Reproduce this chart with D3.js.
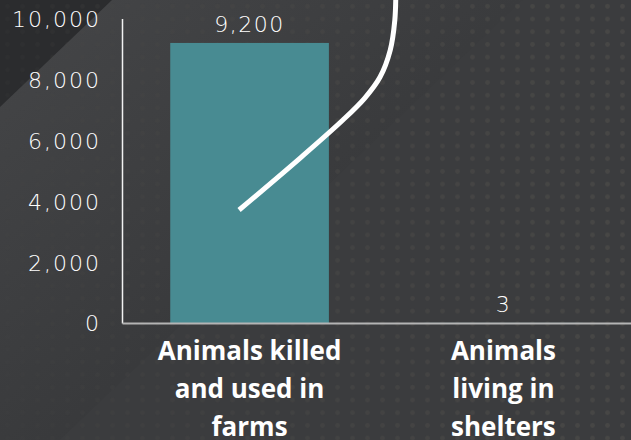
<!DOCTYPE html>
<html lang="en">
<head>
    <meta charset="UTF-8">
    <title>Animals chart</title>
    <script src="https://d3js.org/d3.v7.min.js"></script>
    <style>
        html, body { margin: 0; padding: 0; background: #3a3b3d; overflow: hidden; }
        svg { display: block; }
    </style>
</head>
<body>
<script>
    // data
    const categories = ['farms', 'shelters']
    const labelLines = [
        ['Animals killed', 'and used in', 'farms'],
        ['Animals', 'living in', 'shelters']
    ]
    const values = [9200, 3]
    const yTicks = [0, 2000, 4000, 6000, 8000, 10000]

    // hand-drawn arrow stroke, x as share of plot width, y in chart units
    const curveX = [0.230, 0.350, 0.434, 0.477, 0.507, 0.527, 0.536, 0.538]
    const curveY = [3712, 5420, 6669, 7391, 8081, 8968, 9954, 10940]

    const width = 631
    const height = 440
    const margin = { top: 18.6, right: 0, bottom: 117, left: 122 }

    const numFont = '"DejaVu Sans", sans-serif'
    const labelFont = '"Open Sans", sans-serif'

    const svg = d3.select('body').append('svg')
        .attr('width', width)
        .attr('height', height)

    // ---- background ----
    const defs = svg.append('defs')

    const grad = defs.append('linearGradient')
        .attr('id', 'band')
        .attr('x1', 0).attr('y1', 0).attr('x2', 1).attr('y2', 1)
    grad.append('stop').attr('offset', '0%').attr('stop-color', '#454648')
    grad.append('stop').attr('offset', '100%').attr('stop-color', '#2f3032')

    const dots = defs.append('pattern')
        .attr('id', 'dots')
        .attr('patternUnits', 'userSpaceOnUse')
        .attr('width', 15).attr('height', 12.7)
    dots.append('circle')
        .attr('cx', 7.5).attr('cy', 6.3).attr('r', 2.4)
        .attr('fill', '#4a4947')

    const fade = defs.append('linearGradient')
        .attr('id', 'fade')
        .attr('x1', 0).attr('y1', 0).attr('x2', 1).attr('y2', 0)
    fade.append('stop').attr('offset', '0%').attr('stop-color', '#fff').attr('stop-opacity', 0.1)
    fade.append('stop').attr('offset', '100%').attr('stop-color', '#fff').attr('stop-opacity', 0.85)
    defs.append('mask').attr('id', 'dotmask')
        .append('rect').attr('width', width).attr('height', height).attr('fill', 'url(#fade)')

    const bg = svg.append('g').attr('class', 'background')
    bg.append('rect').attr('width', width).attr('height', height).attr('fill', '#3b3c3e')
    bg.append('polygon')
        .attr('points', '0,0 523,0 60,440 0,440')
        .attr('fill', 'url(#band)')
    bg.append('polygon')
        .attr('points', '0,0 112,0 0,107')
        .attr('fill', '#2b2c2e')
    bg.append('rect')
        .attr('width', width).attr('height', height)
        .attr('fill', 'url(#dots)')
        .attr('mask', 'url(#dotmask)')

    // ---- scales ----
    const xScale = d3.scaleBand()
        .domain(categories)
        .range([margin.left, width - margin.right])
        .paddingInner(0.375)
        .paddingOuter(0.19)

    const yScale = d3.scaleLinear()
        .domain([0, 10000])
        .range([height - margin.bottom, margin.top])

    const annoX = d3.scaleLinear()
        .domain([0, 1])
        .range([margin.left, width - margin.right])

    // ---- bars ----
    svg.append('g')
        .attr('class', 'bars')
        .selectAll('rect')
        .data(values)
        .join('rect')
        .attr('x', (d, i) => xScale(categories[i]))
        .attr('y', d => yScale(d))
        .attr('width', xScale.bandwidth())
        .attr('height', d => yScale(0) - yScale(d))
        .style('fill', '#488b92')

    // value labels
    svg.append('g')
        .attr('class', 'values')
        .selectAll('text')
        .data(values)
        .join('text')
        .attr('x', (d, i) => xScale(categories[i]) + xScale.bandwidth() / 2)
        .attr('y', d => yScale(d) - 11)
        .attr('text-anchor', 'middle')
        .style('font-family', numFont)
        .style('font-weight', 200)
        .style('font-size', '22px')
        .style('letter-spacing', '1.5px')
        .style('fill', '#ffffff')
        .text(d => d3.format(',')(d))

    // ---- axes ----
    const yAxis = d3.axisLeft(yScale)
        .tickValues(yTicks)
        .tickFormat(d3.format(','))
        .tickSize(0)
        .tickPadding(21)

    const gy = svg.append('g')
        .attr('class', 'y-axis')
        .attr('transform', `translate(${margin.left},0)`)
        .call(yAxis)
    gy.select('.domain').attr('stroke', '#f2f2f2').attr('stroke-width', 1.5)
    gy.selectAll('text')
        .style('font-family', numFont)
        .style('font-weight', 200)
        .style('font-size', '22px')
        .style('letter-spacing', '2px')
        .style('fill', '#ffffff')
        .attr('dy', '0.36em')

    const xAxis = d3.axisBottom(xScale)
        .tickSize(0)
        .tickFormat('')

    const gx = svg.append('g')
        .attr('class', 'x-axis')
        .attr('transform', `translate(0,${height - margin.bottom})`)
        .call(xAxis)
    gx.select('.domain').attr('stroke', '#b4b4b4').attr('stroke-width', 2)

    // multi-line category labels
    svg.append('g')
        .attr('class', 'categories')
        .selectAll('text')
        .data(categories)
        .join('text')
        .attr('x', d => xScale(d) + xScale.bandwidth() / 2)
        .attr('y', height - margin.bottom + 37)
        .attr('text-anchor', 'middle')
        .style('font-family', labelFont)
        .style('font-weight', 700)
        .style('font-size', '26px')
        .style('fill', '#ffffff')
        .selectAll('tspan')
        .data((d, i) => labelLines[i])
        .join('tspan')
        .attr('x', function () { return this.parentNode.getAttribute('x') })
        .attr('dy', (d, i) => i === 0 ? 0 : 38)
        .text(d => d)

    // ---- white curve annotation ----
    const line = d3.line()
        .x(d => annoX(d[0]))
        .y(d => yScale(d[1]))
        .curve(d3.curveCatmullRom)

    svg.append('path')
        .attr('class', 'annotation')
        .attr('d', line(d3.zip(curveX, curveY)))
        .attr('fill', 'none')
        .attr('stroke', '#ffffff')
        .attr('stroke-width', 5)
        .attr('stroke-linecap', 'butt')
</script>
</body>
</html>
